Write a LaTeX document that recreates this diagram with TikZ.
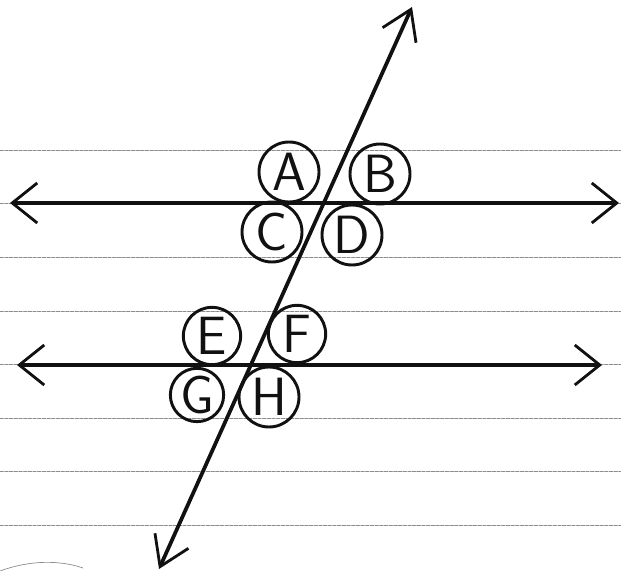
\documentclass[tikz,border=0pt]{standalone}
\usepackage{tikz}
\usetikzlibrary{arrows.meta}
\definecolor{PenInk}{HTML}{111111}
\definecolor{RuleInk}{gray}{0.55}
\tikzset{
  sketch/.style={x=0.03cm,y=-0.03cm,line cap=round,line join=round},
  ruling/.style={draw=RuleInk,line width=0.6pt,dash pattern=on 3pt off 1pt},
  parallel/.style={draw=PenInk,line width=3pt,
    {Straight Barb[length=0.75cm,width=1.2cm,line width=2.4pt]}-{Straight Barb[length=0.75cm,width=1.2cm,line width=2.4pt]}},
  transversal/.style={draw=PenInk,line width=3.2pt,
    {Straight Barb[length=0.85cm,width=1.1cm,line width=2.4pt]}-{Straight Barb[length=0.85cm,width=1.1cm,line width=2.4pt]}},
  angle/.style={circle,draw=PenInk,line width=2.5pt,minimum size=1.8cm,inner sep=0pt,
    text=PenInk,font=\sffamily\fontsize{46}{46}\selectfont},
}

\begin{document}
\begin{tikzpicture}[sketch]
  \useasboundingbox (0,0) rectangle (621,571);

  % notebook rulings
  \foreach \y in {150,203,257,311,364,418,471,525}
    \draw[ruling] (0,\y) -- (621,\y);
  \draw[RuleInk,line width=0.6pt] (0,571) .. controls (30,560) and (60,560) .. (83,568);

  % the two parallel lines and the transversal
  \coordinate (topL) at (10,203);
  \coordinate (topR) at (619,203);
  \coordinate (botL) at (17,365);
  \coordinate (botR) at (602,365);
  \coordinate (tUp) at (412,7);
  \coordinate (tDown) at (159,569);
  \draw[parallel] (topL) -- (topR);
  \draw[parallel] (botL) -- (botR);
  \draw[transversal] (tDown) -- (tUp);

  % angle labels round the upper crossing
  \node[angle] (angA) at (289,172) {A};
  \node[angle] (angB) at (380,174) {B};
  \node[angle] (angC) at (272,232) {C};
  \node[angle] (angD) at (352,235) {D};

  % angle labels round the lower crossing
  \node[angle,minimum size=1.72cm] (angE) at (212,336) {E};
  \node[angle,minimum size=1.72cm] (angF) at (297,334) {F};
  \node[angle,minimum size=1.6cm] (angG) at (197,395) {G};
  \node[angle] (angH) at (269,397) {H};
\end{tikzpicture}
\end{document}
